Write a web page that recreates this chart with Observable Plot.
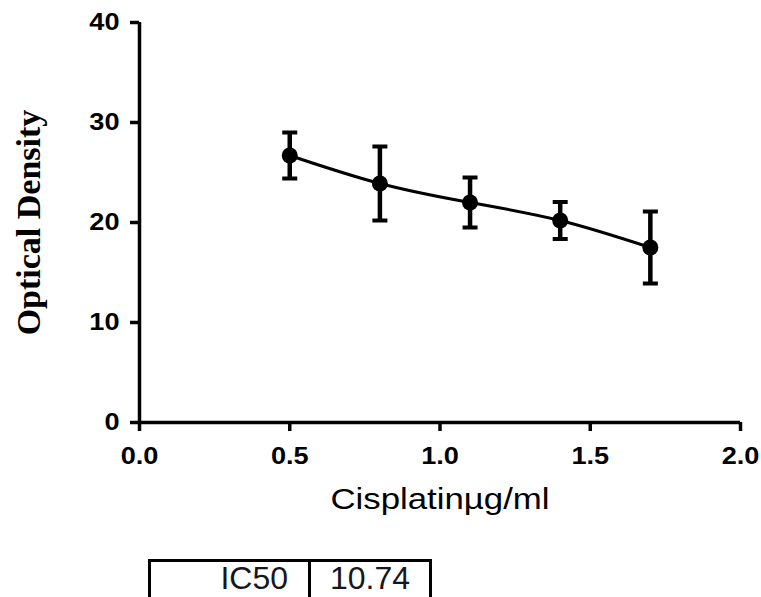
<!DOCTYPE html>
<html><head><meta charset="utf-8">
<script src="https://cdn.jsdelivr.net/npm/d3@7"></script>
<script src="https://cdn.jsdelivr.net/npm/@observablehq/plot@0.6"></script>
<style>
body{margin:0;background:#fff;overflow:hidden;width:761px;height:597px;position:relative}
#chart{position:absolute;left:0;top:0}
#ic{position:absolute;left:148px;top:559px;border-collapse:collapse;font-family:"Liberation Sans",Arial,sans-serif;font-size:32px;color:#161620}
#ic td{border:3px solid #000;height:48px;padding:0;vertical-align:top;line-height:32px}
#ic td.k{width:137px;text-align:right;padding-right:20px}
#ic td.v{width:118px;text-align:center}
</style>
</head><body>
<div id="chart"></div>
<table id="ic"><tr><td class="k"></td><td class="v"></td></tr></table>
<script>
const concentration = [0.5, 0.8, 1.1, 1.4, 1.7];
const density = [26.7, 23.9, 22.0, 20.2, 17.5];
const errorSD = [2.3, 3.7, 2.5, 1.85, 3.6];
const xTicks = [0, 0.5, 1.0, 1.5, 2.0];
const yTicks = [0, 10, 20, 30, 40];
const xTitle = "Cisplatinµg/ml";
const yTitle = "Optical Density";
const tableKey = "IC50";
const tableValue = "10.74";

const data = concentration.map((x, i) => ({x, y: density[i], lo: density[i] - errorSD[i], hi: density[i] + errorSD[i]}));
const capSymbol = {draw(ctx) { ctx.moveTo(-7.5, 0); ctx.lineTo(7.5, 0); }};

const chart = Plot.plot({
  width: 761, height: 545,
  marginLeft: 139, marginRight: 21, marginTop: 22, marginBottom: 123,
  style: {background: "#fff", color: "#000", fontFamily: "'Liberation Sans', Arial, sans-serif"},
  x: {domain: [0, 2]},
  y: {domain: [0, 40]},
  marks: [
    Plot.axisX({ticks: xTicks, tickFormat: d3.format(".1f"), tickSize: 9, tickPadding: 16, strokeWidth: 3.5, fontSize: 23, fontWeight: "bold", label: null}),
    Plot.axisY({ticks: yTicks, tickSize: 9, tickPadding: 11, strokeWidth: 3.5, fontSize: 23, fontWeight: "bold", label: null}),
    Plot.ruleY([0], {strokeWidth: 3.5}),
    Plot.ruleX([0], {strokeWidth: 3.5}),
    Plot.line(data, {x: "x", y: "y", curve: "natural", strokeWidth: 3}),
    Plot.ruleX(data, {x: "x", y1: "lo", y2: "hi", strokeWidth: 4.5}),
    Plot.dot(data, {x: "x", y: "lo", symbol: capSymbol, stroke: "black", strokeWidth: 4}),
    Plot.dot(data, {x: "x", y: "hi", symbol: capSymbol, stroke: "black", strokeWidth: 4}),
    Plot.dot(data, {x: "x", y: "y", r: 8, fill: "black"}),
    Plot.text([yTitle], {text: d => d, frameAnchor: "left", textAnchor: "middle", lineAnchor: "middle", dx: -110, rotate: -90, fontSize: 34, fontFamily: "'Liberation Serif', 'Times New Roman', serif", fontWeight: "bold"}),
    Plot.text([xTitle], {text: d => d, frameAnchor: "bottom", textAnchor: "middle", lineAnchor: "middle", dy: 77, fontSize: 29})
  ]
});
document.getElementById("chart").appendChild(chart);

// horizontal stretch of the reference's text
chart.querySelectorAll('g[aria-label="x-axis tick label"] text, g[aria-label="y-axis tick label"] text').forEach(t => {
  const tr = t.getAttribute("transform") || "";
  t.setAttribute("transform", (tr + " scale(1.18,1)").trim());
});
chart.querySelectorAll("text").forEach(t => {
  if (t.textContent === xTitle) {
    const tr = t.getAttribute("transform") || "";
    t.setAttribute("transform", (tr + " scale(1.2,1)").trim());
  }
});

document.querySelector("#ic td.k").textContent = tableKey;
document.querySelector("#ic td.v").textContent = tableValue;
</script>
</body></html>
